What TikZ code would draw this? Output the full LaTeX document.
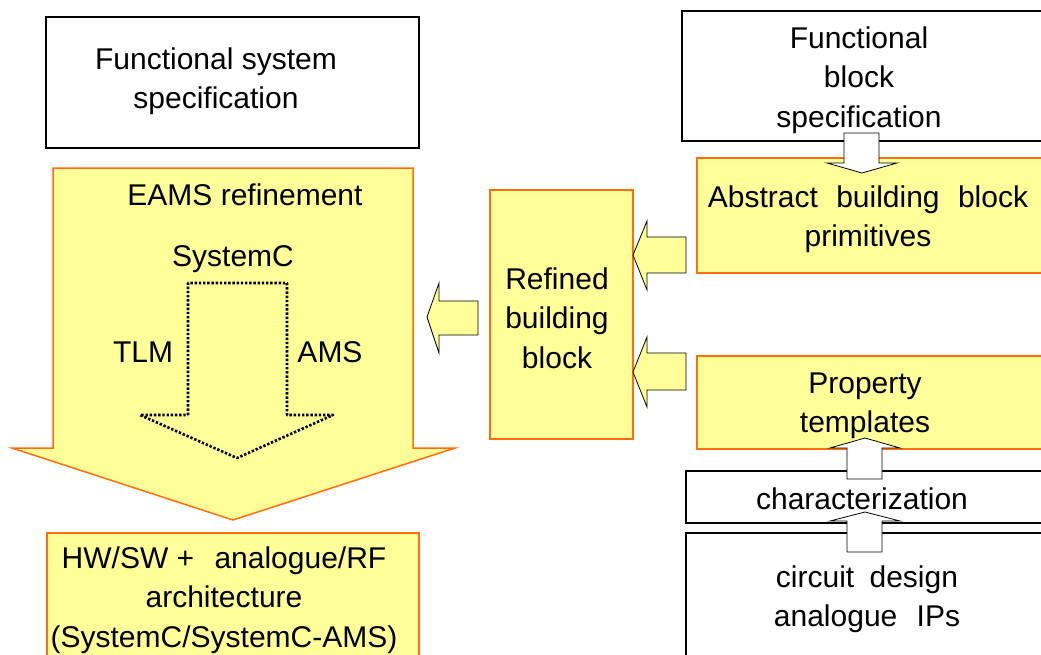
\documentclass[tikz,border=0pt]{standalone}
\usepackage{fontspec}
\setmainfont{Liberation Sans}
\definecolor{padyellow}{RGB}{255,255,153}
\definecolor{padorange}{RGB}{255,110,10}
\tikzset{
  spec/.style={draw=black, line width=1.8pt, fill=white, inner sep=0pt},
  stage/.style={draw=padorange, line width=1.5pt, fill=padyellow, inner sep=0pt},
  label/.style={align=center, inner sep=0pt, font=\fontsize{30}{39.5}\selectfont},
  yarrow/.style={draw=black, line width=0.8pt, fill=padyellow, line join=miter},
  warrow/.style={draw=black, line width=0.8pt, fill=white, line join=miter},
  bigarrow/.style={draw=padorange, line width=1.5pt, fill=padyellow},
  flow/.style={draw=black, line width=2.6pt, dash pattern=on 2.4pt off 1.8pt, line join=round}
}
\begin{document}
\begin{tikzpicture}[x=1pt, y=-1pt]
\clip (0,0) rectangle (1041,654);
\fill[white] (0,0) rectangle (1041,654);

% left column: system level flow
\node[spec, minimum width=373pt, minimum height=131pt, anchor=north west] (fss) at (45,16) {};
\node[label] (tfss) at (216,81) {Functional system\\specification};

\path[bigarrow] (53,168) -- (413,168) -- (413,448) -- (455,448) -- (233,520)
  -- (12,448) -- (53,448) -- cycle;
\node[label] (teams) at (245,195) {EAMS refinement};
\node[label] (tsysc) at (233,259) {SystemC};
\node[label] (ttlm) at (143,352) {TLM};
\node[label] (tams) at (330,352) {AMS};
\path[flow] (188,415) -- (188,283) -- (287,283) -- (287,415) -- (333,415)
  -- (237,458) -- (140,415) -- cycle;

\node[stage, minimum width=372pt, minimum height=140pt, anchor=north west] (hw) at (46,532) {};
\node[label] (thw) at (224,600) {HW/SW +\hspace{12pt} analogue/RF\\architecture\\(SystemC/SystemC-AMS)};

% middle: refined building block
\node[stage, minimum width=143pt, minimum height=249pt, anchor=north west] (ref) at (489,189) {};
\node[label] (tref) at (557,318) {Refined\\building\\block};
\path[yarrow] (478,301) -- (439,301) -- (439,283) -- (427,317) -- (439,353)
  -- (439,335) -- (478,335) -- cycle;

% right column: building block level
\node[spec, minimum width=380pt, minimum height=130pt, anchor=north west] (fbs) at (681,10) {};
\node[label] (tfbs) at (859,80) {Functional\\block\\specification};

\node[stage, minimum width=370pt, minimum height=115pt, anchor=north west] (abs) at (696,157) {};
\node[label] (tabs) at (868,219) {Abstract\hspace{10pt} building\hspace{10pt} block\\primitives};

\node[stage, minimum width=370pt, minimum height=93pt, anchor=north west] (prop) at (696,355) {};
\node[label] (tprop) at (865,406) {Property\\templates};

\node[spec, minimum width=380pt, minimum height=52pt, anchor=north west] (chr) at (685,470) {};
\node[label] (tchr) at (862,499) {characterization};

\node[spec, minimum width=380pt, minimum height=140pt, anchor=north west] (circ) at (685,532) {};
\node[label] (tcirc) at (867,599) {circuit\hspace{7pt} design\\analogue\hspace{11pt} IPs};

% block arrows between the stages
\path[warrow] (844,133) -- (879,133) -- (879,163) -- (897,163) -- (862,173)
  -- (827,163) -- (844,163) -- cycle;
\path[yarrow] (686,237) -- (647,237) -- (647,221) -- (633,255) -- (647,290)
  -- (647,273) -- (686,273) -- cycle;
\path[yarrow] (686,353) -- (647,353) -- (647,337) -- (633,372) -- (647,407)
  -- (647,390) -- (686,390) -- cycle;
\path[warrow] (847,479) -- (847,448) -- (830,448) -- (865,438) -- (900,448)
  -- (882,448) -- (882,479) -- cycle;
\path[warrow] (847,552) -- (847,521) -- (830,521) -- (865,512) -- (900,521)
  -- (882,521) -- (882,552) -- cycle;
\end{tikzpicture}
\end{document}
